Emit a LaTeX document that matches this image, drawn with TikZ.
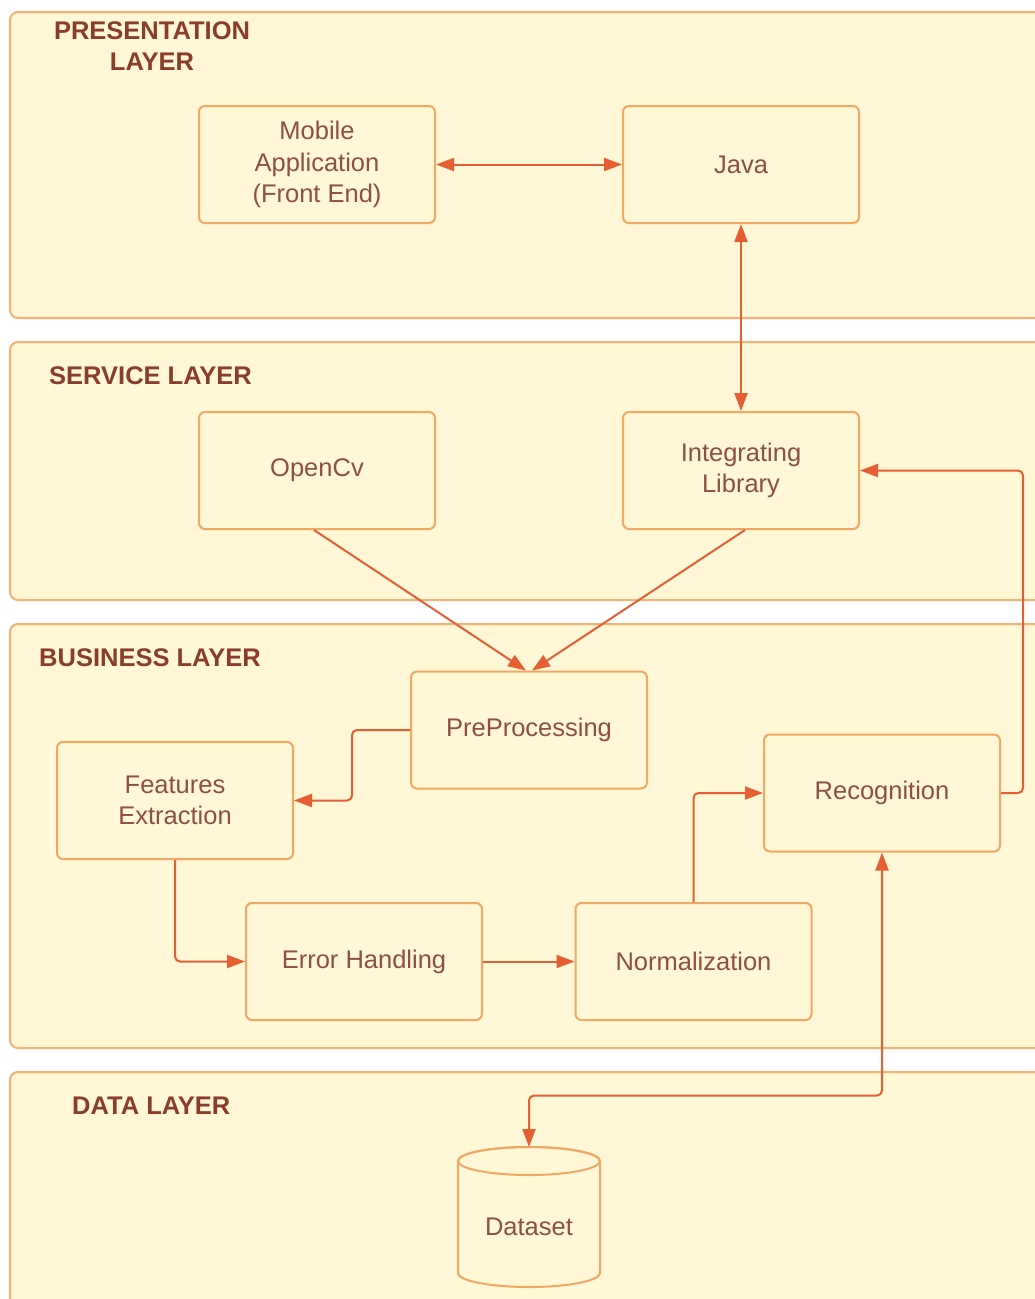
\documentclass[tikz,border=0pt]{standalone}
\usepackage{fontspec}
\setmainfont{Liberation Sans}
\usetikzlibrary{arrows.meta}
\definecolor{bandfill}{HTML}{FFF7D6}
\definecolor{bandline}{HTML}{F6B271}
\definecolor{boxline}{HTML}{F3A862}
\definecolor{wirecol}{HTML}{E55F33}
\definecolor{labeltext}{HTML}{8A3E28}
\definecolor{boxtext}{HTML}{8E5040}

\begin{document}
\begin{tikzpicture}[x=1pt,y=-1pt,
  band/.style={draw=bandline, fill=bandfill, line width=2pt, rounded corners=8pt},
  block/.style={draw=boxline, fill=bandfill, line width=2pt, rounded corners=6pt,
    minimum width=236pt, minimum height=117pt, inner sep=0pt, align=center,
    text=boxtext, font=\fontsize{25.5}{31.5}\selectfont},
  layertitle/.style={text=labeltext, font=\bfseries\fontsize{25.5}{31}\selectfont,
    inner sep=0pt, align=center},
  wire/.style={draw=wirecol, line width=2pt, rounded corners=5pt},
  onehead/.style={-{Triangle[length=18pt,width=13pt]}},
  twoheads/.style={{Triangle[length=18pt,width=13pt]}-{Triangle[length=18pt,width=13pt]}}
]
\useasboundingbox (0,0) rectangle (1035,1299);
\fill[white] (0,0) rectangle (1035,1299);
\clip (0,0) rectangle (1035,1299);

% layer bands (they run past the right edge)
\draw[band] (10,12)   rectangle (1070,318);
\draw[band] (10,342)  rectangle (1070,600);
\draw[band] (10,624)  rectangle (1070,1048);
\draw[band] (10,1072) rectangle (1070,1340);

% layer titles
\node[layertitle] (tpres) at (152,46) {PRESENTATION\\LAYER};
\node[layertitle, anchor=west] (tserv) at (49,376) {SERVICE LAYER};
\node[layertitle, anchor=west] (tbus)  at (39,658) {BUSINESS LAYER};
\node[layertitle, anchor=west] (tdata) at (72,1106) {DATA LAYER};

% components
\node[block] (mobile) at (317,164.5) {Mobile\\Application\\(Front End)};
\node[block] (java)   at (741,164.5) {Java};
\node[block] (opencv) at (317,470.5) {OpenCv};
\node[block] (integ)  at (741,470.5) {Integrating\\Library};
\node[block] (pre)    at (529,730)   {PreProcessing};
\node[block] (feat)   at (175,800.5) {Features\\Extraction};
\node[block] (recog)  at (882,793)   {Recognition};
\node[block] (err)    at (364,961.5) {Error Handling};
\node[block] (norm)   at (693.5,961.5) {Normalization};

% dataset cylinder: body, then the full top rim
\draw[draw=boxline, fill=bandfill, line width=2pt]
  (458,1161) -- (458,1273) arc[start angle=180, end angle=0, x radius=71, y radius=14]
  -- (600,1161) arc[start angle=0, end angle=-180, x radius=71, y radius=14] -- cycle;
\draw[draw=boxline, line width=2pt] (529,1161) ellipse[x radius=71, y radius=14];
\coordinate (dstop) at (529,1147);
\node[inner sep=0pt, text=boxtext, font=\fontsize{25.5}{31.5}\selectfont] (dataset) at (529,1227) {Dataset};

% connectors
\draw[wire, twoheads] (mobile.east) -- (java.west);
\draw[wire, twoheads] (java.south) -- (integ.north);
\draw[wire, onehead] (recog.east) -- ++(22,0) |- (integ.east);
\draw[wire, onehead] ([xshift=-3pt]opencv.south) -- ([xshift=-3pt]pre.north);
\draw[wire, onehead] ([xshift=4pt]integ.south) -- ([xshift=3pt]pre.north);
\draw[wire, onehead] (pre.west) -- ++(-58,0) |- (feat.east);
\draw[wire, onehead] (feat.south) |- (err.west);
\draw[wire, onehead] (err.east) -- (norm.west);
\draw[wire, onehead] (norm.north) |- (recog.west);
\draw[wire, twoheads] (recog.south) -- ++(0,243) -| (dstop);
\end{tikzpicture}
\end{document}
